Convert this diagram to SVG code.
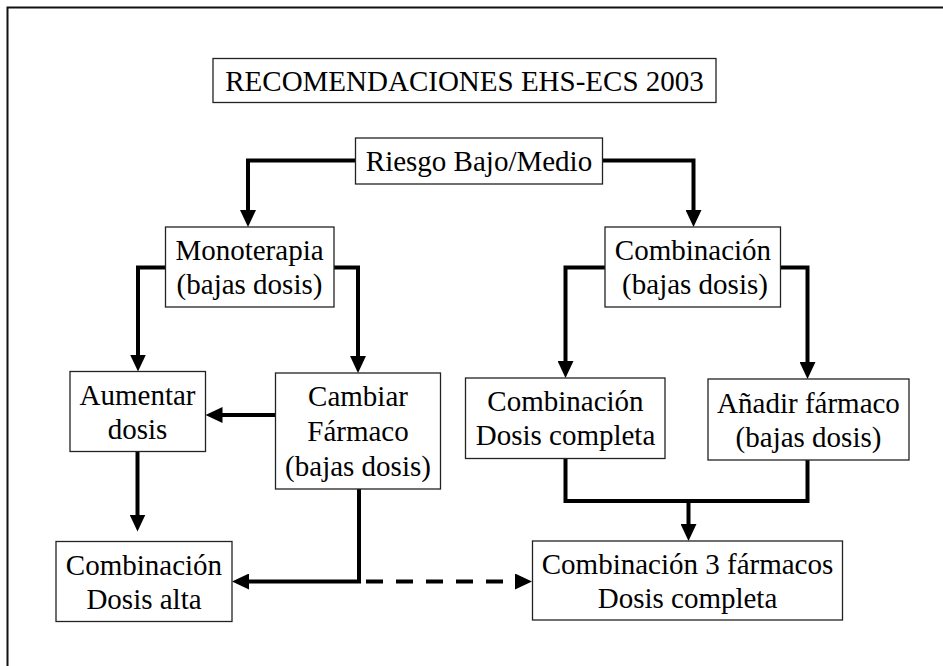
<svg xmlns="http://www.w3.org/2000/svg" width="943" height="666" viewBox="0 0 943 666">
<style>
.box{fill:#fff;stroke:#222;stroke-width:1.3}
.t{font-family:'Liberation Serif','Tinos','DejaVu Serif',serif;font-size:29px;fill:#000;text-anchor:middle}
.c{fill:none;stroke:#000;stroke-width:4;marker-end:url(#ah)}
.d{stroke-dasharray:17 13}
</style>
<defs>
<marker id="ah" viewBox="0 0 17 16" refX="7" refY="8" markerWidth="17" markerHeight="16" markerUnits="userSpaceOnUse" orient="auto">
<path d="M0,0 L17,8 L0,16 z" fill="#000"/>
</marker>
</defs>
<rect width="943" height="666" fill="#fff"/>
<path d="M7.5,666 V7.5 H943" fill="none" stroke="#111" stroke-width="2"/>
<g id="connectors">
<path class="c" d="M355,160.5 H248 V217"/>
<path class="c" d="M602,160.5 H693.5 V217"/>
<path class="c" d="M166,267.5 H138 V361.5"/>
<path class="c" d="M334,267.5 H358 V363"/>
<path class="c" d="M605,267.5 H565.5 V368"/>
<path class="c" d="M780.5,267.5 H807.5 V369"/>
<path class="c" d="M275.5,415 H215.5"/>
<path class="c" d="M137.5,451.5 V521.5"/>
<path class="c" d="M359,489 V581.5 H242"/>
<path class="c d" d="M366,581.5 H522"/>
<path d="M565.5,458.5 V501 H807.5 V460" fill="none" stroke="#000" stroke-width="4"/>
<path class="c" d="M688.5,501 V531"/>
</g>
<g id="title">
<rect class="box" x="213" y="58.5" width="503" height="44"/>
<text class="t" font-family="Liberation Serif" x="464.5" y="90.5">RECOMENDACIONES EHS-ECS 2003</text>
</g>
<g id="riesgo">
<rect class="box" x="355.5" y="138" width="247" height="46"/>
<text class="t" x="479" y="171">Riesgo Bajo/Medio</text>
</g>
<g id="monoterapia">
<rect class="box" x="165.5" y="227" width="168.5" height="80"/>
<text class="t" x="249.5" y="260">Monoterapia</text>
<text class="t" x="249.5" y="294">(bajas dosis)</text>
</g>
<g id="combinacion-bajas">
<rect class="box" x="605" y="227" width="175.5" height="80"/>
<text class="t" x="693" y="260">Combinación</text>
<text class="t" x="695" y="294">(bajas dosis)</text>
</g>
<g id="aumentar">
<rect class="box" x="70" y="371.5" width="135.5" height="80"/>
<text class="t" x="137.5" y="404.5">Aumentar</text>
<text class="t" x="137.5" y="438.5">dosis</text>
</g>
<g id="cambiar">
<rect class="box" x="275.5" y="373" width="165" height="116"/>
<text class="t" x="358" y="406">Cambiar</text>
<text class="t" x="358" y="441">Fármaco</text>
<text class="t" x="358" y="476">(bajas dosis)</text>
</g>
<g id="combinacion-completa">
<rect class="box" x="465.5" y="378" width="199.5" height="80.5"/>
<text class="t" x="565.5" y="411">Combinación</text>
<text class="t" x="565.5" y="445">Dosis completa</text>
</g>
<g id="anadir">
<rect class="box" x="708" y="379" width="201" height="81"/>
<text class="t" x="808.5" y="412.5">Añadir fármaco</text>
<text class="t" x="808.5" y="446.5">(bajas dosis)</text>
</g>
<g id="combinacion-alta">
<rect class="box" x="56" y="541.5" width="176" height="80"/>
<text class="t" x="144" y="574.5">Combinación</text>
<text class="t" x="144" y="608.5">Dosis alta</text>
</g>
<g id="combinacion-3">
<rect class="box" x="532.5" y="541" width="310" height="79"/>
<text class="t" x="687.5" y="573.5">Combinación 3 fármacos</text>
<text class="t" x="687.5" y="607.5">Dosis completa</text>
</g>
</svg>
